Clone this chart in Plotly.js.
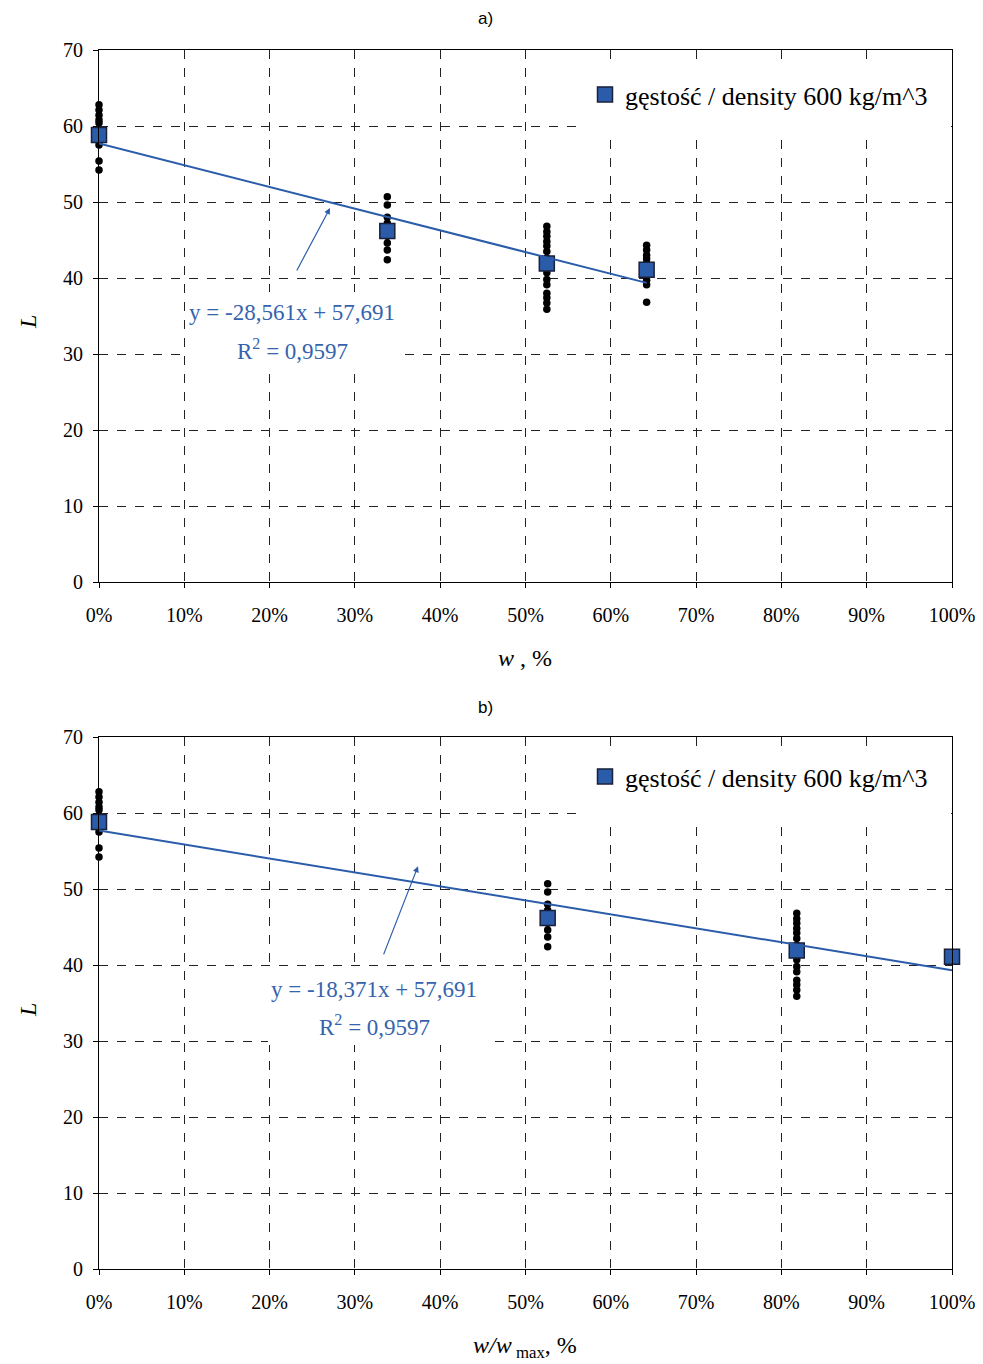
<!DOCTYPE html>
<html>
<head>
<meta charset="utf-8">
<script src="https://cdn.plot.ly/plotly-3.0.1.min.js"></script>
<style>html,body{margin:0;padding:0;background:#fff;}#chart{width:983px;height:1364px;}</style>
</head>
<body>
<div id="chart"></div>
<script>
// ---- data ----
const clusterXA = [0, 0.338, 0.525, 0.642];          // w, fraction (panel a)
const clusterXB = [0, 0.526, 0.818, 1.0];            // w/wmax (panel b)
const meanL = [58.8, 46.2, 41.9, 41.1];              // mean L (squares)
const dots0 = [62.8, 62.1, 61.4, 60.8, 60.4, 58.2, 57.5, 55.4, 54.2];
const dots1 = [50.7, 49.6, 48.0, 47.2, 46.4, 45.5, 44.6, 43.7, 42.4];
const dots2 = [46.8, 46.1, 45.5, 44.8, 44.2, 43.5, 42.6, 42.1, 41.5, 40.7, 39.8, 39.1, 38.0, 37.4, 36.7, 35.9];
const dots3 = [44.3, 43.7, 43.0, 42.5, 41.9, 41.3, 40.6, 39.7, 39.1, 36.8];
const dotsA = [dots0, dots1, dots2, dots3];
const dotsB = [dots0, dots1, dots2];                 // last cluster shows no dots in panel b
const fitA = {slope: -28.561, intercept: 57.691, x0: 0, x1: 0.642};
const fitB = {slope: -18.371, intercept: 57.691, x0: 0, x1: 1.0};
const eqA = ["y = -28,561x + 57,691", "R<sup>2</sup> = 0,9597"];
const eqB = ["y = -18,371x + 57,691", "R<sup>2</sup> = 0,9597"];
const legendName = "gęstość / density 600 kg/m^3";
const xTickVals = [0,0.1,0.2,0.3,0.4,0.5,0.6,0.7,0.8,0.9,1.0];
const yTickVals = [0,10,20,30,40,50,60,70];

// ---- styles ----
const BLUE = '#2a5caa';
const TXTBLUE = '#3563ad';
const SERIF = 'Liberation Serif, Times New Roman, serif';
const W=983, H=1364;

function flat(xs, groups){
  const x=[], y=[];
  groups.forEach((g,i)=>g.forEach(v=>{x.push(xs[i]); y.push(v);}));
  return {x,y};
}
function fitLine(f){ return {x:[f.x0,f.x1], y:[f.intercept+f.slope*f.x0, f.intercept+f.slope*f.x1]}; }

const dA = flat(clusterXA, dotsA), dB = flat(clusterXB, dotsB);
const lA = fitLine(fitA), lB = fitLine(fitB);
const sqMarker = {symbol:'square', color:BLUE, size:15, line:{color:'#1a1f3a', width:1.5}};

const traces = [
  {x:dA.x, y:dA.y, xaxis:'x', yaxis:'y', mode:'markers', type:'scatter', showlegend:false, cliponaxis:false,
   marker:{color:'black', size:7.5}},
  {x:clusterXA, y:meanL, xaxis:'x', yaxis:'y', mode:'markers', type:'scatter', name:legendName, legend:'legend', cliponaxis:false,
   marker:sqMarker},
  {x:lA.x, y:lA.y, xaxis:'x', yaxis:'y', mode:'lines', type:'scatter', showlegend:false, line:{color:BLUE, width:2}},
  {x:dB.x, y:dB.y, xaxis:'x2', yaxis:'y2', mode:'markers', type:'scatter', showlegend:false, cliponaxis:false,
   marker:{color:'black', size:7.5}},
  {x:clusterXB, y:meanL, xaxis:'x2', yaxis:'y2', mode:'markers', type:'scatter', name:legendName, legend:'legend2', cliponaxis:false,
   marker:sqMarker},
  {x:lB.x, y:lB.y, xaxis:'x2', yaxis:'y2', mode:'lines', type:'scatter', showlegend:false, line:{color:BLUE, width:2}}
];

const xd=[99/W, 952/W];
function xaxis(anchor){
  return {domain:xd, anchor:anchor, range:[0,1], tickvals:xTickVals, tickformat:'.0%',
    showline:true, linecolor:'black', linewidth:1, mirror:true,
    ticks:'outside', ticklen:5, tickcolor:'black', ticklabelstandoff:10,
    showgrid:true, gridcolor:'#222', griddash:'dash', gridwidth:1, zeroline:false,
    tickfont:{family:SERIF, size:20, color:'black'}, fixedrange:true};
}
function yaxis(anchor, top, bot){
  return {domain:[1-bot/H, 1-top/H], anchor:anchor, range:[0,70], tickvals:yTickVals,
    showline:true, linecolor:'black', linewidth:1, mirror:true,
    ticks:'outside', ticklen:5, tickcolor:'black', ticklabelstandoff:6,
    showgrid:true, gridcolor:'#222', griddash:'dash', gridwidth:1, zeroline:false,
    tickfont:{family:SERIF, size:20, color:'black'}, fixedrange:true};
}

function eqAnn(xref,yref,x,y,text){
  return {xref:xref, yref:yref, x:x, y:y, xanchor:'center', yanchor:'middle', text:text, showarrow:false,
    font:{family:SERIF, size:23, color:TXTBLUE}};
}
function pAnn(x,y,text,size,family,angle){
  return {xref:'paper', yref:'paper', x:x/W, y:1-y/H, xanchor:'center', yanchor:'middle', text:text,
    showarrow:false, textangle:angle||0, font:{family:family, size:size, color:'black'}};
}

const annotations = [
  pAnn(485,19,'a)',17,'Liberation Sans, Arial'),
  pAnn(485,707,'b)',17,'Liberation Sans, Arial'),
  pAnn(525,658,'<i>w</i> , %',24,SERIF),
  pAnn(525,1347,'<i>w/w</i><sub> max</sub>, %',24,SERIF),
  pAnn(28,322,'<i>L</i>',24,SERIF,-90),
  pAnn(28,1010,'<i>L</i>',24,SERIF,-90),
  {xref:'x', yref:'y', axref:'x', ayref:'y', x:0.2708, y:49.2, ax:0.231, ay:40.8, text:'', showarrow:true,
   arrowhead:2, arrowsize:1, arrowwidth:1.2, arrowcolor:BLUE},
  {xref:'x2', yref:'y2', axref:'x2', ayref:'y2', x:0.374, y:53.0, ax:0.333, ay:41.2, text:'', showarrow:true,
   arrowhead:2, arrowsize:1, arrowwidth:1.2, arrowcolor:BLUE},
  eqAnn('x','y',0.2268,35.4,eqA[0]),
  eqAnn('x','y',0.2268,30.6,eqA[1]),
  eqAnn('x2','y2',0.3224,36.8,eqB[0]),
  eqAnn('x2','y2',0.3224,32.0,eqB[1])
];

// white boxes behind legend and equations (hide grid like the original)
function wbox(x0,y0,x1,y1){
  return {type:'rect', xref:'paper', yref:'paper', x0:x0/W, x1:x1/W, y0:1-y1/H, y1:1-y0/H,
    fillcolor:'white', line:{width:0}, layer:'above'};
}
const shapes = [
  wbox(576,62,951,131), wbox(187,292,402,370),
  wbox(576,748,951,818), wbox(268,970,490,1045)
];

const layout = {
  width:W, height:H, margin:{l:0,r:0,t:0,b:0}, paper_bgcolor:'white', plot_bgcolor:'white',
  xaxis:xaxis('y'), yaxis:yaxis('x',50,582),
  xaxis2:xaxis('y2'), yaxis2:yaxis('x2',737,1269),
  legend:{x:585/W, y:1-71/H, xanchor:'left', yanchor:'top', bgcolor:'rgba(0,0,0,0)', borderwidth:0,
    font:{family:SERIF, size:26, color:'black'}, itemwidth:30},
  legend2:{x:585/W, y:1-753/H, xanchor:'left', yanchor:'top', bgcolor:'rgba(0,0,0,0)', borderwidth:0,
    font:{family:SERIF, size:26, color:'black'}, itemwidth:30},
  annotations:annotations, shapes:shapes,
  showlegend:true
};

Plotly.newPlot('chart', traces, layout, {staticPlot:true, displayModeBar:false});
</script>
</body>
</html>
